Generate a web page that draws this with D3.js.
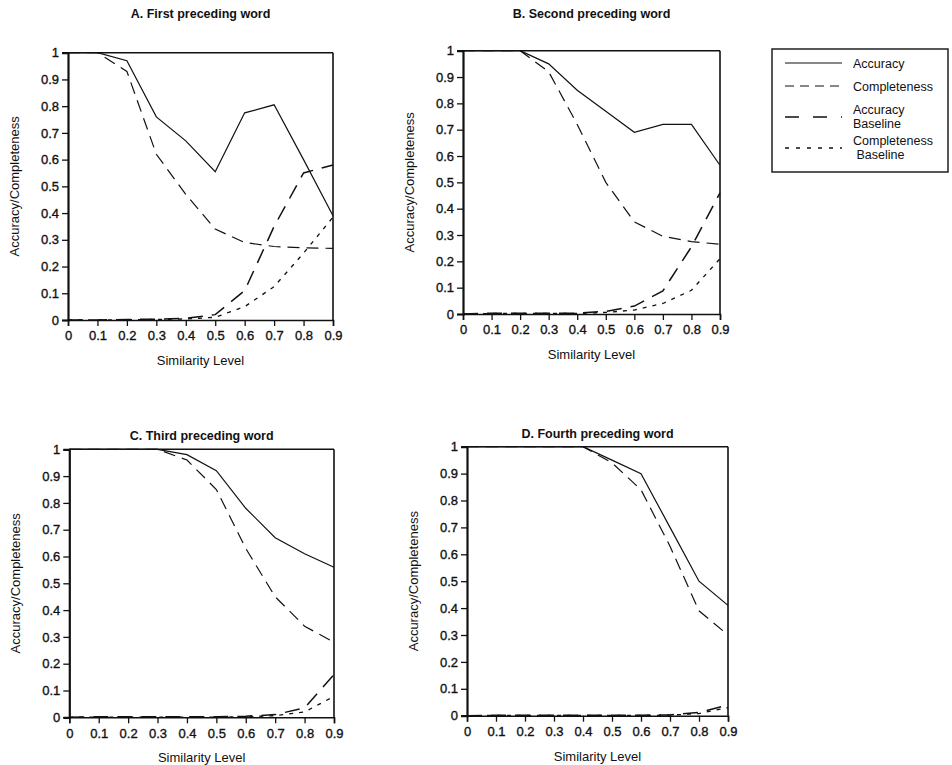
<!DOCTYPE html>
<html><head><meta charset="utf-8">
<script src="https://cdn.jsdelivr.net/npm/d3@7"></script>
<style>
body{margin:0;background:#fff}
svg text{font-family:"Liberation Sans",Arial,Helvetica,sans-serif;fill:#111}
</style>
</head><body>
<svg id="chart" width="952" height="765"></svg>
<script>
// ---------- data ----------
const simLevels = [0, 0.1, 0.2, 0.3, 0.4, 0.5, 0.6, 0.7, 0.8, 0.9];
const yTickValues = [0, 0.1, 0.2, 0.3, 0.4, 0.5, 0.6, 0.7, 0.8, 0.9, 1];
const panelTitles = ["A. First preceding word", "B. Second preceding word", "C. Third preceding word", "D. Fourth preceding word"];
const seriesNames = ["Accuracy", "Completeness", "Accuracy Baseline", "Completeness Baseline"];

const accuracyA     = [1, 1, 0.97, 0.76, 0.67, 0.555, 0.775, 0.805, 0.6, 0.39];
const completenessA = [1, 1, 0.93, 0.62, 0.47, 0.34, 0.29, 0.275, 0.27, 0.268];
const accBaseA      = [0, 0, 0.002, 0.003, 0.006, 0.02, 0.11, 0.35, 0.55, 0.58];
const compBaseA     = [0, 0, 0.001, 0.002, 0.004, 0.01, 0.05, 0.125, 0.25, 0.385];

const accuracyB     = [1, 1, 1, 0.95, 0.85, 0.77, 0.69, 0.72, 0.72, 0.565];
const completenessB = [1, 1, 1, 0.92, 0.72, 0.5, 0.35, 0.295, 0.275, 0.265];
const accBaseB      = [0, 0.003, 0.003, 0.003, 0.003, 0.01, 0.03, 0.088, 0.255, 0.46];
const compBaseB     = [0, 0.002, 0.002, 0.002, 0.002, 0.006, 0.015, 0.04, 0.09, 0.21];

const accuracyC     = [1, 1, 1, 1, 0.98, 0.92, 0.78, 0.67, 0.61, 0.56];
const completenessC = [1, 1, 1, 1, 0.96, 0.85, 0.63, 0.45, 0.34, 0.28];
const accBaseC      = [0, 0.002, 0.002, 0.002, 0.002, 0.002, 0.004, 0.01, 0.035, 0.16];
const compBaseC     = [0, 0.001, 0.001, 0.001, 0.001, 0.001, 0.002, 0.006, 0.02, 0.078];

const accuracyD     = [1, 1, 1, 1, 1, 0.95, 0.9, 0.7, 0.5, 0.41];
const completenessD = [1, 1, 1, 1, 1, 0.94, 0.84, 0.63, 0.39, 0.3];
const accBaseD      = [0, 0.002, 0.002, 0.002, 0.002, 0.002, 0.002, 0.003, 0.012, 0.04];
const compBaseD     = [0, 0.001, 0.001, 0.001, 0.001, 0.001, 0.001, 0.002, 0.008, 0.03];

// ---------- layout / style ----------
const panelBoxes = [
  {left: 68,  right: 333, top: 52.7,  bottom: 320,   titleY: 18},
  {left: 463, right: 720, top: 50.7,  bottom: 314,   titleY: 18},
  {left: 69.3,right: 334, top: 449.3, bottom: 717.3, titleY: 440},
  {left: 467, right: 728, top: 446.7, bottom: 715.7, titleY: 438}
];
const panelSeries = [
  [accuracyA, completenessA, accBaseA, compBaseA],
  [accuracyB, completenessB, accBaseB, compBaseB],
  [accuracyC, completenessC, accBaseC, compBaseC],
  [accuracyD, completenessD, accBaseD, compBaseD]
];
const seriesDash = [null, "12,7", "15,9", "4,6"];
const seriesWidth = [1.2, 1.2, 1.5, 1.3];

const svg = d3.select("#chart");
const fmt = d => d === 0 ? "0" : d === 1 ? "1" : d.toFixed(1);

panelBoxes.forEach((b, i) => {
  const x = d3.scaleLinear().domain([0, 0.9]).range([b.left, b.right]);
  const y = d3.scaleLinear().domain([0, 1]).range([b.bottom, b.top]);
  const g = svg.append("g");

  g.append("text").attr("x", (b.left + b.right) / 2).attr("y", b.titleY)
    .attr("text-anchor", "middle").attr("font-size", 12.5).attr("font-weight", "bold")
    .text(panelTitles[i]);

  g.append("line").attr("x1", x(0)).attr("x2", x(0.9)).attr("y1", y(1)).attr("y2", y(1))
    .attr("stroke", "#111").attr("stroke-width", 1.6);
  g.append("line").attr("x1", x(0.9)).attr("x2", x(0.9)).attr("y1", y(1)).attr("y2", y(0))
    .attr("stroke", "#111").attr("stroke-width", 1.6);

  const xAxis = d3.axisBottom(x).tickValues(simLevels).tickFormat(fmt).tickSize(6).tickPadding(5);
  const gx = g.append("g").attr("transform", `translate(0,${y(0)})`).call(xAxis);
  const yAxis = d3.axisLeft(y).tickValues(yTickValues).tickFormat(fmt).tickSize(6).tickPadding(3);
  const gy = g.append("g").attr("transform", `translate(${x(0)},0)`).call(yAxis);
  [gx, gy].forEach(a => {
    a.select(".domain").attr("stroke", "#111").attr("stroke-width", 1.6);
    a.selectAll(".tick line").attr("stroke", "#111").attr("stroke-width", 1.3);
    a.selectAll(".tick text").attr("font-size", 13).attr("fill", "#111")
      .attr("stroke", "#111").attr("stroke-width", 0.35)
      .attr("font-family", "'Liberation Sans',Arial,sans-serif");
  });
  gy.select(".domain").attr("stroke-width", 2.2);

  g.append("text").attr("x", (b.left + b.right) / 2).attr("y", b.bottom + 45)
    .attr("text-anchor", "middle").attr("font-size", 13).text("Similarity Level");
  g.append("text")
    .attr("transform", `translate(${b.left - 49},${(b.top + b.bottom) / 2}) rotate(-90)`)
    .attr("text-anchor", "middle").attr("font-size", 13).text("Accuracy/Completeness");

  const line = d3.line().x((d, j) => x(simLevels[j])).y(d => y(d));
  panelSeries[i].forEach((vals, s) => {
    g.append("path").datum(vals).attr("d", line)
      .attr("fill", "none").attr("stroke", "#111")
      .attr("stroke-width", seriesWidth[s])
      .attr("stroke-dasharray", seriesDash[s]);
  });
});

// ---------- legend ----------
const legend = svg.append("g");
legend.append("rect").attr("x", 772).attr("y", 49).attr("width", 176).attr("height", 123)
  .attr("fill", "none").attr("stroke", "#111").attr("stroke-width", 1.4);
const legendRows = [
  {y: 63, lines: ["Accuracy"]},
  {y: 86, lines: ["Completeness"]},
  {y: 117, lines: ["Accuracy", "Baseline"]},
  {y: 148, lines: ["Completeness", " Baseline"]}
];
const legendDash = [null, "9,6", "14,14", "4,7"];
legendRows.forEach((r, s) => {
  legend.append("line").attr("x1", 785).attr("x2", 842).attr("y1", r.y).attr("y2", r.y)
    .attr("stroke", "#111").attr("stroke-width", seriesWidth[s])
    .attr("stroke-dasharray", legendDash[s]);
  const t = legend.append("text").attr("x", 853).attr("font-size", 12.5);
  if (r.lines.length === 1) {
    t.attr("y", r.y + 4.5).text(r.lines[0]);
  } else {
    t.append("tspan").attr("x", 853).attr("y", r.y - 3).text(r.lines[0]);
    t.append("tspan").attr("x", 853).attr("y", r.y + 11).attr("xml:space", "preserve").text(r.lines[1]);
  }
});
</script>
</body></html>
